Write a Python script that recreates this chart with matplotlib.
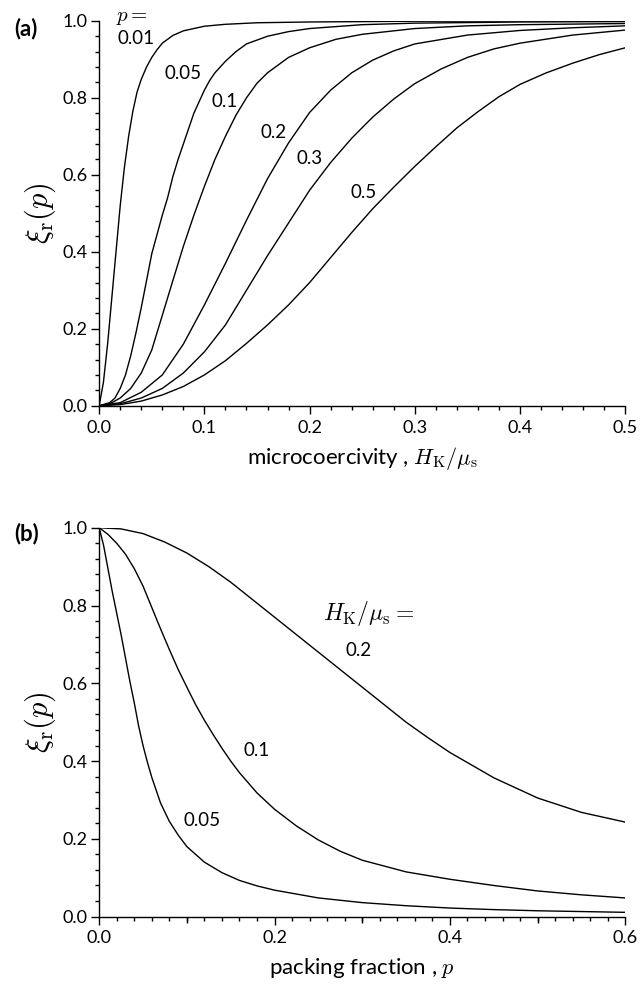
import matplotlib
matplotlib.use("Agg")
import matplotlib.pyplot as plt
from matplotlib.ticker import MultipleLocator, FormatStrFormatter

plt.rcParams["font.family"] = ["Lato", "DejaVu Sans"]
plt.rcParams["mathtext.fontset"] = "cm"

# ---- panel (a): xi_r vs microcoercivity, one curve per packing fraction p
hk_001 = [0, 0.004, 0.008, 0.012, 0.016, 0.02, 0.024, 0.028, 0.032, 0.036, 0.04,
          0.045, 0.05, 0.055, 0.06, 0.07, 0.08, 0.1, 0.12, 0.15, 0.2, 0.3, 0.5]
xi_001 = [0, 0.06, 0.16, 0.28, 0.40, 0.52, 0.62, 0.70, 0.765, 0.815, 0.848,
          0.88, 0.905, 0.925, 0.942, 0.962, 0.974, 0.986, 0.991, 0.995, 0.997, 0.999, 1.0]

hk_005 = [0, 0.01, 0.015, 0.02, 0.025, 0.03, 0.035, 0.04, 0.045, 0.05, 0.055, 0.06,
          0.065, 0.07, 0.075, 0.08, 0.085, 0.09, 0.095, 0.1, 0.105, 0.11, 0.12, 0.13,
          0.14, 0.16, 0.18, 0.2, 0.25, 0.3, 0.4, 0.5]
xi_005 = [0, 0.008, 0.02, 0.045, 0.08, 0.13, 0.19, 0.255, 0.325, 0.395, 0.445, 0.495,
          0.54, 0.595, 0.64, 0.68, 0.72, 0.76, 0.79, 0.82, 0.845, 0.865, 0.895, 0.92,
          0.94, 0.96, 0.972, 0.98, 0.99, 0.994, 0.997, 0.998]

hk_01 = [0, 0.01, 0.02, 0.03, 0.04, 0.05, 0.06, 0.07, 0.08, 0.09, 0.1, 0.11, 0.12,
         0.13, 0.14, 0.15, 0.16, 0.18, 0.2, 0.225, 0.25, 0.3, 0.35, 0.4, 0.5]
xi_01 = [0, 0.005, 0.02, 0.045, 0.085, 0.145, 0.235, 0.325, 0.414, 0.495, 0.57, 0.64,
         0.70, 0.755, 0.80, 0.838, 0.865, 0.905, 0.93, 0.952, 0.965, 0.98, 0.987, 0.99, 0.993]

hk_02 = [0, 0.02, 0.04, 0.06, 0.08, 0.1, 0.12, 0.14, 0.16, 0.18, 0.2, 0.22, 0.24,
         0.26, 0.28, 0.3, 0.35, 0.4, 0.45, 0.5]
xi_02 = [0, 0.008, 0.035, 0.08, 0.16, 0.262, 0.37, 0.482, 0.59, 0.683, 0.762, 0.82,
         0.865, 0.898, 0.922, 0.94, 0.963, 0.975, 0.982, 0.987]

hk_03 = [0, 0.02, 0.04, 0.06, 0.08, 0.1, 0.12, 0.14, 0.16, 0.18, 0.2, 0.22, 0.24,
         0.26, 0.28, 0.3, 0.325, 0.35, 0.375, 0.4, 0.45, 0.5]
xi_03 = [0, 0.005, 0.02, 0.045, 0.085, 0.14, 0.21, 0.30, 0.39, 0.475, 0.56, 0.632,
         0.695, 0.75, 0.797, 0.837, 0.875, 0.905, 0.927, 0.942, 0.963, 0.976]

hk_05 = [0, 0.02, 0.04, 0.06, 0.08, 0.1, 0.12, 0.14, 0.16, 0.18, 0.2, 0.22, 0.24,
         0.26, 0.28, 0.3, 0.32, 0.34, 0.36, 0.38, 0.4, 0.425, 0.45, 0.475, 0.5]
xi_05 = [0, 0.003, 0.012, 0.028, 0.05, 0.08, 0.117, 0.162, 0.21, 0.262, 0.32, 0.385,
         0.45, 0.512, 0.568, 0.622, 0.673, 0.722, 0.764, 0.803, 0.835, 0.865, 0.89,
         0.912, 0.93]

# ---- panel (b): xi_r vs packing fraction, one curve per H_K/mu_s
p_005 = [0, 0.005, 0.01, 0.015, 0.02, 0.025, 0.03, 0.035, 0.04, 0.045, 0.05, 0.055,
         0.06, 0.07, 0.08, 0.09, 0.1, 0.12, 0.14, 0.16, 0.18, 0.2, 0.25, 0.3, 0.35,
         0.4, 0.45, 0.5, 0.55, 0.6]
xib_005 = [1.0, 0.955, 0.895, 0.835, 0.78, 0.725, 0.665, 0.605, 0.55, 0.49, 0.44,
           0.397, 0.358, 0.292, 0.245, 0.21, 0.18, 0.14, 0.113, 0.093, 0.079, 0.068,
           0.048, 0.036, 0.028, 0.022, 0.018, 0.015, 0.013, 0.011]

p_01 = [0, 0.01, 0.02, 0.03, 0.04, 0.05, 0.06, 0.07, 0.08, 0.09, 0.1, 0.11, 0.12,
        0.13, 0.14, 0.15, 0.16, 0.18, 0.2, 0.225, 0.25, 0.275, 0.3, 0.35, 0.4, 0.45,
        0.5, 0.55, 0.6]
xib_01 = [1.0, 0.983, 0.96, 0.932, 0.895, 0.85, 0.795, 0.74, 0.687, 0.636, 0.59,
          0.545, 0.505, 0.468, 0.433, 0.40, 0.37, 0.318, 0.276, 0.233, 0.197, 0.168,
          0.145, 0.115, 0.096, 0.08, 0.066, 0.056, 0.048]

p_02 = [0, 0.025, 0.05, 0.075, 0.1, 0.125, 0.15, 0.175, 0.2, 0.225, 0.25, 0.275,
        0.3, 0.325, 0.35, 0.375, 0.4, 0.45, 0.5, 0.55, 0.6]
xib_02 = [1.0, 0.997, 0.985, 0.963, 0.935, 0.90, 0.86, 0.815, 0.77, 0.725, 0.68,
          0.635, 0.59, 0.545, 0.50, 0.46, 0.422, 0.357, 0.305, 0.268, 0.243]

curves_a = [(hk_001, xi_001), (hk_005, xi_005), (hk_01, xi_01),
            (hk_02, xi_02), (hk_03, xi_03), (hk_05, xi_05)]
curves_b = [(p_005, xib_005), (p_01, xib_01), (p_02, xib_02)]

labels_a = ["0.01", "0.05", "0.1", "0.2", "0.3", "0.5"]
labels_b = ["0.05", "0.1", "0.2"]

fig = plt.figure(figsize=(6.44, 9.92), dpi=100)
ax1 = fig.add_axes([0.154, 0.591, 0.817, 0.388])
ax2 = fig.add_axes([0.154, 0.076, 0.817, 0.392])


def style_axis(ax, xmax, xmajor):
    ax.spines["top"].set_visible(False)
    ax.spines["right"].set_visible(False)
    for s in ("left", "bottom"):
        ax.spines[s].set_linewidth(1.0)
    ax.set_xlim(0, xmax)
    ax.set_ylim(0, 1.0)
    ax.xaxis.set_major_locator(MultipleLocator(xmajor))
    ax.xaxis.set_minor_locator(MultipleLocator(0.02))
    ax.yaxis.set_major_locator(MultipleLocator(0.2))
    ax.yaxis.set_minor_locator(MultipleLocator(0.04))
    ax.xaxis.set_major_formatter(FormatStrFormatter("%.1f"))
    ax.yaxis.set_major_formatter(FormatStrFormatter("%.1f"))
    ax.tick_params(which="major", direction="out", length=6, width=1.0, labelsize=13)
    ax.tick_params(axis="y", which="major", pad=2.5)
    ax.tick_params(axis="x", which="major", pad=4)
    ax.tick_params(which="minor", direction="out", length=3, width=1.0)
    ax.set_ylabel(r"$\xi_{\rm r}(p)$", fontsize=22, labelpad=3)


for hk, xi in curves_a:
    ax1.plot(hk, xi, color="black", lw=1.0)
style_axis(ax1, 0.5, 0.1)
ax1.set_xlabel(r"microcoercivity , $H_{\rm K}/\mu_{\rm s}$", fontsize=16, labelpad=7)

pos_a = [(0.035, 0.955), (0.08, 0.863), (0.119, 0.791),
         (0.166, 0.71), (0.20, 0.643), (0.251, 0.553)]
for (x, y), lab in zip(pos_a, labels_a):
    ax1.text(x, y, lab, fontsize=13.5, ha="center", va="center")
ax1.text(0.031, 1.01, r"$p =$", fontsize=15, ha="center", va="center", clip_on=False)

for p, xi in curves_b:
    ax2.plot(p, xi, color="black", lw=1.0)
style_axis(ax2, 0.6, 0.2)
ax2.set_xlabel(r"packing fraction , $p$", fontsize=16, labelpad=7)

# medium ticks at 0.1, 0.3, 0.5 on panel (b)
sec = ax2.secondary_xaxis("bottom")
sec.set_xticks([0.1, 0.3, 0.5])
sec.set_xticklabels([])
sec.tick_params(direction="out", length=4.5, width=1.0)
sec.spines["bottom"].set_visible(False)

pos_b = [(0.117, 0.247), (0.179, 0.426), (0.296, 0.685)]
for (x, y), lab in zip(pos_b, labels_b):
    ax2.text(x, y, lab, fontsize=13.5, ha="center", va="center")
ax2.text(0.307, 0.78, r"$H_{\rm K}/\mu_{\rm s} =$", fontsize=17, ha="center", va="center")

fig.text(0.040, 0.9647, "(a)", fontsize=16, fontweight="bold", ha="center", va="baseline")
fig.text(0.041, 0.4556, "(b)", fontsize=16, fontweight="bold", ha="center", va="baseline")

fig.savefig("out.png", dpi=100)
